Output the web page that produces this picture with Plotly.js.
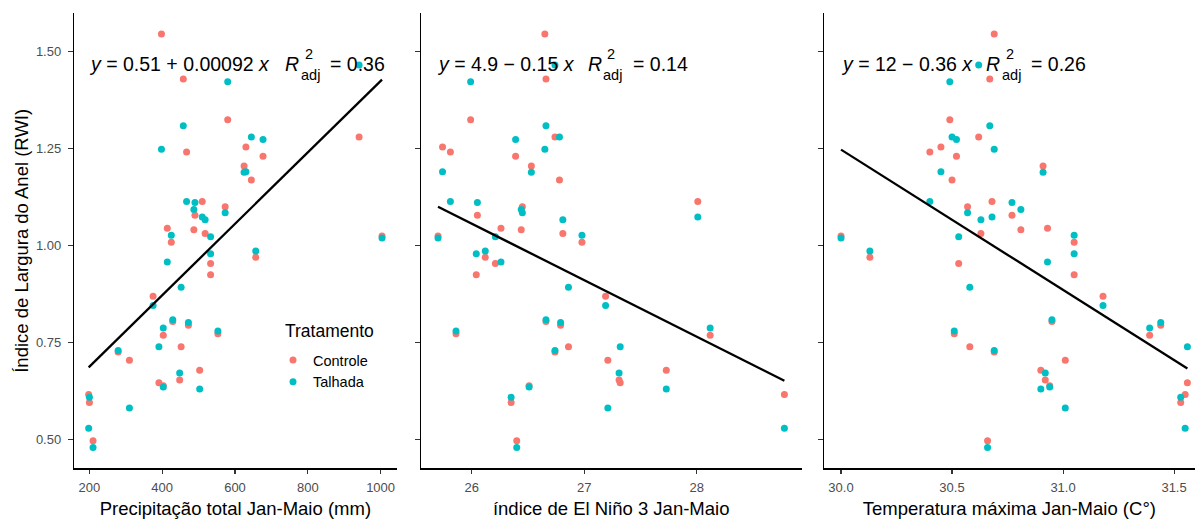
<!DOCTYPE html>
<html>
<head>
<meta charset="utf-8">
<script src="https://cdn.plot.ly/plotly-3.0.1.min.js"></script>
<style>html,body{margin:0;padding:0;background:#fff;}#chart{width:1195px;height:520px;}</style>
</head>
<body>
<div id="chart"></div>
<script>
// ---- data (one entry per year) ----
const precipitacao = [398,458,580,467,645,677,630,625,490,510,487,573,518,414,425,533,533,941,1004,657,452,375,429,472,403,553,391,279,310,503,448,403,198,200,210];
const elNino3 = [26.65,26.66,25.99,25.81,26.78,26.39,25.74,26.53,26.05,28.01,26.44,26.45,26.81,26.26,26.98,26.21,26.04,26.74,25.70,26.12,26.86,27.19,26.66,26.79,28.12,25.86,27.32,26.74,27.21,27.73,27.31,26.51,28.78,26.35,26.40];
const tempMax = [30.69,30.67,30.49,30.40,30.50,30.52,30.45,30.91,30.77,30.68,30.81,30.57,30.63,30.93,31.05,30.53,31.05,30.62,30.00,30.13,30.58,31.18,30.95,31.44,31.39,30.51,31.56,30.69,31.01,30.90,30.92,30.94,31.55,31.53,30.66];
const rwiControle = [1.544,1.428,1.323,1.240,1.168,1.229,1.253,1.204,1.077,1.113,1.040,1.099,1.030,1.044,1.008,0.953,0.924,1.279,1.024,0.969,0.739,0.869,0.804,0.794,0.768,0.772,0.646,0.725,0.704,0.678,0.653,0.638,0.616,0.595,0.497];
const rwiTalhada = [1.247,1.308,1.421,1.113,1.279,1.272,1.189,1.188,1.110,1.073,1.092,1.084,1.066,0.957,1.026,1.022,0.978,1.464,1.019,0.985,0.892,0.845,0.808,0.801,0.787,0.779,0.739,0.729,0.581,0.630,0.671,0.635,0.529,0.609,0.479];

const groupNames = ['Controle','Talhada'];
const xTitles = ['Precipitação total Jan-Maio (mm)','índice de El Niño 3 Jan-Maio','Temperatura máxima Jan-Maio (C°)'];
const yTitle = 'Índice de Largura do Anel (RWI)';
const legendTitle = 'Tratamento';
const eqMain = ['<i>y</i> = 0.51 + 0.00092 <i>x</i>','<i>y</i> = 4.9 − 0.15 <i>x</i>','<i>y</i> = 12 − 0.36 <i>x</i>'];
const eqR2 = ['= 0.36','= 0.14','= 0.26'];
const xTickVals = [[200,400,600,800,1000],[26,27,28],[30.0,30.5,31.0,31.5]];
const yTickVals = [0.50,0.75,1.00,1.25,1.50];

// ---- styling ----
const W = 1195, H = 520;
const colors = ['#F8766D','#00BFC4'];
const FONT = '"Liberation Sans", Arial, Helvetica, sans-serif';
const panelPx = [[74,396.7],[420.7,801.7],[823.7,1195]];
const clipFrac = [1,1,(1195-823.7)/(801.7-420.7)];
const yPx = [13.3,468.3];
const eqPx = [{main:87,R:283},{main:435,R:585.7},{main:839,R:984}];
const pxX = v => v / W, pxY = v => 1 - v / H;

function ols(x, y){
  const n = x.length; let mx=0,my=0;
  for(let i=0;i<n;i++){mx+=x[i];my+=y[i];}
  mx/=n; my/=n;
  let sxx=0,sxy=0;
  for(let i=0;i<n;i++){sxx+=(x[i]-mx)*(x[i]-mx);sxy+=(x[i]-mx)*(y[i]-my);}
  const b = sxy/sxx; return [my-b*mx, b];
}

const xsets = [precipitacao, elNino3, tempMax];
const allY = rwiControle.concat(rwiTalhada);
const yMin = Math.min(...allY), yMax = Math.max(...allY);
const yRange = [yMin-0.05*(yMax-yMin), yMax+0.05*(yMax-yMin)];

const traces = [];
const layout = {
  width: W, height: H,
  margin: {l:0,r:0,t:0,b:0},
  paper_bgcolor:'#fff', plot_bgcolor:'#fff',
  font: {family: FONT, color:'#000'},
  showlegend: true,
  legend: {
    x: pxX(273), y: pxY(344), xanchor:'left', yanchor:'top',
    font: {size:14.5, color:'#000'}, bgcolor:'rgba(0,0,0,0)', tracegroupgap:0
  },
  annotations: [
    {xref:'paper', yref:'paper', x:pxX(283), y:pxY(330.5), xanchor:'left', yanchor:'middle', showarrow:false,
     text: legendTitle, font:{family:FONT, size:17.5, color:'#000'}},
    {xref:'paper', yref:'paper', x:pxX(22), y:pxY((yPx[0]+yPx[1])/2), xanchor:'center', yanchor:'middle', showarrow:false,
     textangle:-90, text: yTitle, font:{family:FONT, size:18.5, color:'#000'}}
  ]
};

xsets.forEach((xs, p) => {
  const k = p === 0 ? '' : String(p+1);
  const xa = 'x'+k, ya = 'y'+k;
  groupNames.forEach((g, gi) => {
    traces.push({
      type:'scatter', mode:'markers', x: xs, y: gi===0 ? rwiControle : rwiTalhada,
      xaxis: xa, yaxis: ya, name: g, legendgroup: g, showlegend: p===0,
      marker: {color: colors[gi], size: 7}, cliponaxis: false, hoverinfo:'skip'
    });
  });
  const xx = xs.concat(xs);
  const [a, b] = ols(xx, allY);
  const x0 = Math.min(...xs), x1 = Math.max(...xs);
  traces.push({
    type:'scatter', mode:'lines', x:[x0,x1], y:[a+b*x0, a+b*x1],
    xaxis: xa, yaxis: ya, showlegend:false, line:{color:'#000', width:2.3}, hoverinfo:'skip'
  });
  const span = x1-x0; const lo = x0-0.05*span, hi = x1+0.05*span;
  const xr = [lo, lo+(hi-lo)*clipFrac[p]];
  layout['xaxis'+k] = {
    domain:[pxX(panelPx[p][0]), pxX(panelPx[p][1])], anchor: ya, range: xr,
    tickvals: xTickVals[p], tickformat: p===2 ? '.1f' : 'd',
    showline:true, linecolor:'#000', linewidth:1.2, ticks:'outside', ticklen:4, tickwidth:1.1, tickcolor:'#333',
    ticklabelstandoff: 3,
    showgrid:false, zeroline:false, tickfont:{size:13, color:'#4D4D4D', family:FONT},
    title:{text: xTitles[p], font:{size:18.5, color:'#000', family:FONT}, standoff:8},
    automargin:false, fixedrange:true
  };
  layout['yaxis'+k] = {
    domain:[pxY(yPx[1]), pxY(yPx[0])], anchor: xa, range: yRange,
    tickvals: yTickVals, tickformat:'.2f', showticklabels: p===0,
    showline:true, linecolor:'#000', linewidth:1.2, ticks:'outside', ticklen:5, tickwidth:1.1, tickcolor:'#333',
    ticklabelstandoff: 4,
    showgrid:false, zeroline:false, tickfont:{size:13, color:'#4D4D4D', family:FONT},
    title:{text:''},
    automargin:false, fixedrange:true
  };
  // equation label
  const e = eqPx[p];
  const base = {xref:'paper', yref:'paper', showarrow:false, font:{family:FONT, size:19.5, color:'#000'}};
  layout.annotations.push(Object.assign({}, base, {x:pxX(e.main), y:pxY(64), xanchor:'left', yanchor:'middle', text:eqMain[p]}));
  layout.annotations.push(Object.assign({}, base, {x:pxX(e.R), y:pxY(64), xanchor:'left', yanchor:'middle', text:'<i>R</i>'}));
  layout.annotations.push(Object.assign({}, base, {x:pxX(e.R+25.5), y:pxY(54), xanchor:'center', yanchor:'middle', text:'2', font:{family:FONT,size:14.5,color:'#000'}}));
  layout.annotations.push(Object.assign({}, base, {x:pxX(e.R+27), y:pxY(75), xanchor:'center', yanchor:'middle', text:'adj', font:{family:FONT,size:14.5,color:'#000'}}));
  layout.annotations.push(Object.assign({}, base, {x:pxX(e.R+45), y:pxY(64), xanchor:'left', yanchor:'middle', text:eqR2[p]}));
});

Plotly.newPlot('chart', traces, layout, {displayModeBar:false, staticPlot:true});
</script>
</body>
</html>
